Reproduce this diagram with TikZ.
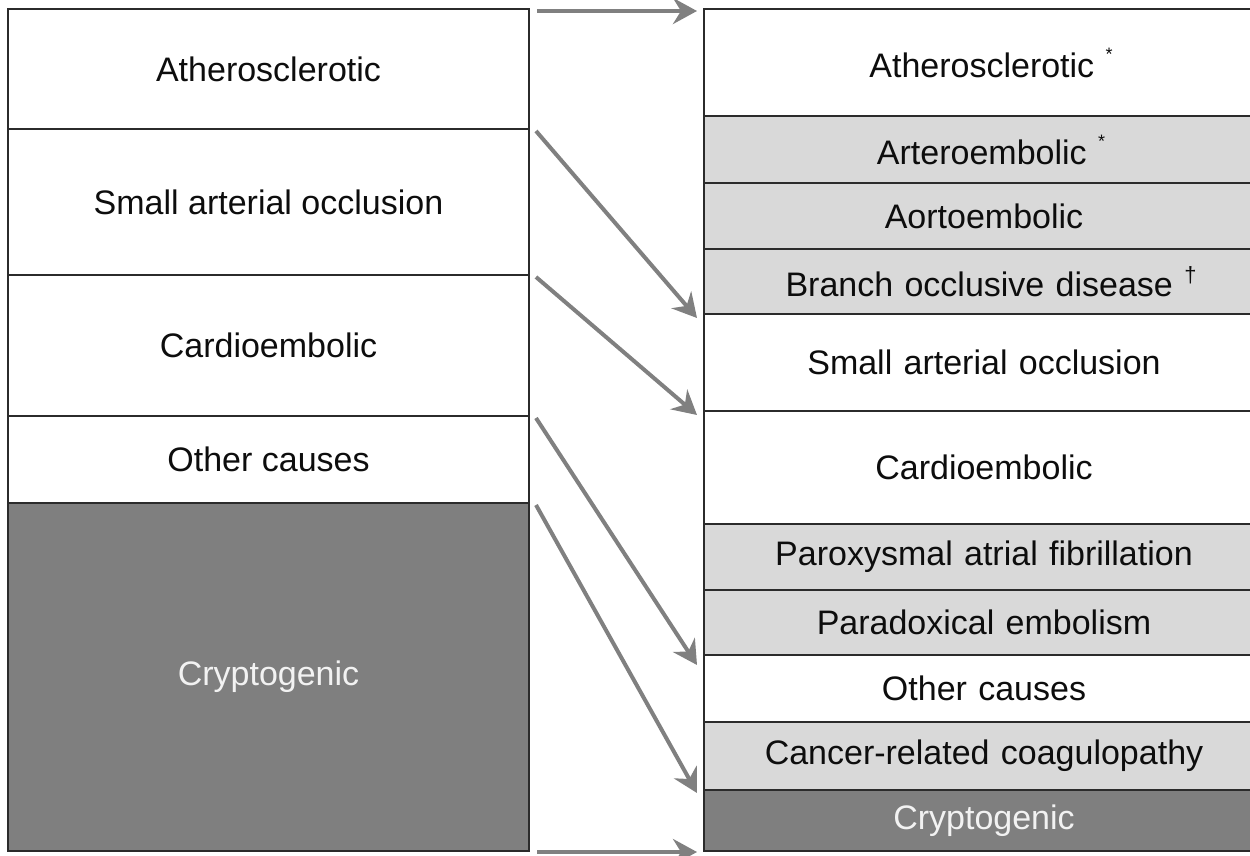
\documentclass[tikz,border=0pt]{standalone}
\usepackage{fontspec}
\setmainfont{Liberation Sans}
\usetikzlibrary{arrows.meta}
\definecolor{darkfill}{HTML}{7F7F7F}
\definecolor{lightfill}{HTML}{D9D9D9}
\definecolor{edgecol}{HTML}{2B2B2B}
\definecolor{arrcol}{HTML}{808080}
\definecolor{txt}{HTML}{0D0D0D}
\definecolor{lighttxt}{HTML}{F2F2F2}
\begin{document}
\begin{tikzpicture}[x=1pt,y=1pt,
  box/.style={draw=edgecol,line width=2.2pt,inner sep=0pt,outer sep=0pt,anchor=north west,
    font=\fontsize{34}{40}\selectfont,text=txt,fill=white},
  lbox/.style={box,minimum width=521pt},
  rbox/.style={box,minimum width=560pt,text width=560pt,align=center},
  grey/.style={fill=lightfill},
  dark/.style={fill=darkfill,text=lighttxt},
  arr/.style={draw=arrcol,line width=4pt,-{Stealth[length=24pt,width=26pt,inset=8pt]}}]
\useasboundingbox (0,0) rectangle (1250,-856);
\begin{scope}
\clip (0,0) rectangle (1250,-856);
% left column
\node[lbox,minimum height=120pt] (L1) at (8,-9) {Atherosclerotic};
\node[lbox,minimum height=146pt] (L2) at (8,-129) {Small arterial occlusion};
\node[lbox,minimum height=141pt] (L3) at (8,-275) {Cardioembolic};
\node[lbox,minimum height=87pt] (L4) at (8,-416) {Other causes};
\node[lbox,dark,minimum height=348pt] (L5) at (8,-503) {Cryptogenic};
% right column
\node[rbox,minimum height=107pt] (R1) at (704,-9) {Atherosclerotic \raisebox{0.5em}{\fontsize{18}{20}\selectfont *}\hspace*{-14pt}};
\node[rbox,grey,minimum height=67pt] (R2) at (704,-116) {Arteroembolic \raisebox{0.5em}{\fontsize{18}{20}\selectfont *}\hspace*{-14pt}};
\node[rbox,grey,minimum height=66pt] (R3) at (704,-183) {Aortoembolic};
\node[rbox,grey,minimum height=65pt] (R4) at (704,-249) {Branch occlusive disease \raisebox{0.4em}{\fontsize{22}{24}\selectfont †}\hspace*{-14pt}};
\node[rbox,minimum height=97pt] (R5) at (704,-314) {Small arterial occlusion};
\node[rbox,minimum height=113pt] (R6) at (704,-411) {Cardioembolic};
\node[rbox,grey,minimum height=66pt] (R7) at (704,-524) {Paroxysmal atrial fibrillation};
\node[rbox,grey,minimum height=65pt] (R8) at (704,-590) {Paradoxical embolism};
\node[rbox,minimum height=67pt] (R9) at (704,-655) {Other causes};
\node[rbox,grey,minimum height=68pt] (R10) at (704,-722) {Cancer-related coagulopathy};
\node[rbox,dark,minimum height=61pt] (R11) at (704,-790) {Cryptogenic};
\end{scope}
% arrows
\draw[arr] ([xshift=8pt,yshift=-2pt]L1.north east) -- ([xshift=-7pt,yshift=-2pt]R1.north west);
\draw[arr] ([xshift=8pt,yshift=-1pt]L5.south east) -- ([xshift=-7pt,yshift=-1pt]R11.south west);
\draw[arr] ([xshift=7pt,yshift=-2pt]L2.north east) -- ([xshift=-7pt,yshift=-4pt]R5.north west);
\draw[arr] ([xshift=7pt,yshift=-2pt]L3.north east) -- ([xshift=-7pt,yshift=-4pt]R6.north west);
\draw[arr] ([xshift=7pt,yshift=-2pt]L4.north east) -- ([xshift=-7pt,yshift=-10pt]R9.north west);
\draw[arr] ([xshift=7pt,yshift=-2pt]L5.north east) -- ([xshift=-7pt,yshift=-3pt]R11.north west);
\end{tikzpicture}
\end{document}
